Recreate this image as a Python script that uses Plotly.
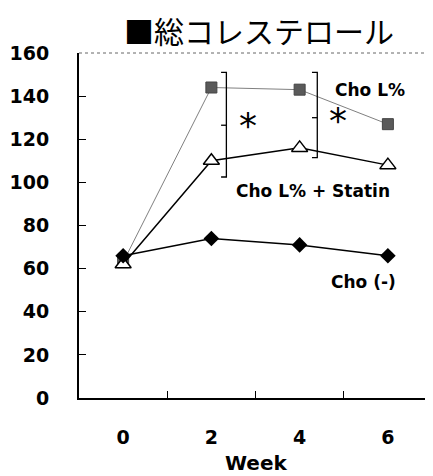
import plotly.graph_objects as go

weeks = ["0", "2", "4", "6"]
cho_l = [63, 144, 143, 127]
cho_l_statin = [62, 110, 116, 108]
cho_neg = [66, 74, 71, 66]
y_ticks = [0, 20, 40, 60, 80, 100, 120, 140, 160]

FONT = "DejaVu Sans"

fig = go.Figure()
fig.add_trace(go.Scatter(x=weeks, y=cho_l, mode="lines+markers", name="Cho L%",
                         line=dict(color="#808080", width=1),
                         marker=dict(symbol="square", size=11, color="#5a5a5a",
                                     line=dict(color="#444", width=1))))
fig.add_trace(go.Scatter(x=weeks, y=cho_l_statin, mode="lines+markers", name="Cho L% + Statin",
                         line=dict(color="black", width=1.5),
                         marker=dict(symbol="triangle-up", size=14, color="white",
                                     line=dict(color="black", width=1.5))))
fig.add_trace(go.Scatter(x=weeks, y=cho_neg, mode="lines+markers", name="Cho (-)",
                         line=dict(color="black", width=1.5),
                         marker=dict(symbol="diamond", size=12, color="black")))

shapes = []
# significance brackets: (x position, top, bottom, mid)
brackets = [(1.17, 151, 102.5, 126.5), (2.2, 151, 111.5, 130)]
for bx, top, bot, mid in brackets:
    shapes.append(dict(type="path", xref="x", yref="y",
                       path=f"M {bx-0.06},{top} L {bx},{top} L {bx},{bot} L {bx-0.06},{bot}",
                       line=dict(color="black", width=1.3)))
    shapes.append(dict(type="line", xref="x", yref="y", x0=bx - 0.06, x1=bx, y0=mid, y1=mid,
                       line=dict(color="black", width=1.3)))
# dotted top/right frame
shapes.append(dict(type="line", xref="paper", yref="paper", x0=0, x1=1, y0=1, y1=1,
                   line=dict(color="#666", width=1, dash="dot")))
shapes.append(dict(type="line", xref="paper", yref="paper", x0=1, x1=1, y0=0, y1=1,
                   line=dict(color="#888", width=1, dash="dot")))

annotations = [
    dict(text="■総コレステロール", xref="paper", yref="paper", x=0.51, y=1, yshift=23,
         showarrow=False, font=dict(family="Noto Sans CJK JP", size=30, color="black"),
         xanchor="center", yanchor="middle"),
    dict(text="<b>Cho L%</b>", xref="x", yref="y", x=2.8, y=143, showarrow=False,
         font=dict(family=FONT, size=17, color="black")),
    dict(text="<b>Cho L% + Statin</b>", xref="x", yref="y", x=2.15, y=96, showarrow=False,
         font=dict(family=FONT, size=17, color="black")),
    dict(text="<b>Cho (-)</b>", xref="x", yref="y", x=2.72, y=54, showarrow=False,
         font=dict(family=FONT, size=17, color="black")),
    dict(text="*", xref="x", yref="y", x=1.42, y=126.5, showarrow=False,
         font=dict(family=FONT, size=36, color="black")),
    dict(text="*", xref="x", yref="y", x=2.43, y=128.5, showarrow=False,
         font=dict(family=FONT, size=36, color="black")),
    dict(text="<b>Week</b>", xref="paper", yref="paper", x=0.5, y=0, yshift=-65,
         showarrow=False, font=dict(family=FONT, size=20, color="black"),
         xanchor="center", yanchor="middle"),
]

# the page body adds an 8px offset, so the figure is 8px smaller
fig.update_layout(
    width=425, height=468,
    margin=dict(l=71, r=1, t=45, b=78),
    plot_bgcolor="white", paper_bgcolor="white",
    showlegend=False,
    shapes=shapes, annotations=annotations,
    font=dict(family=FONT, color="black"),
)
fig.update_xaxes(type="category", range=[-0.5, 3.5], tickson="boundaries", ticks="inside",
                 ticklen=7, tickcolor="black", showline=True, linecolor="black", linewidth=1.5,
                 showgrid=False, zeroline=False, ticklabelstandoff=21, automargin=False,
                 tickfont=dict(family=FONT, size=19, color="black"),
                 tickvals=weeks, ticktext=[f"<b>{w}</b>" for w in weeks])
fig.update_yaxes(range=[0, 160], tickvals=y_ticks,
                 ticktext=[f"<b>{v}</b>\u2007\u2007" for v in y_ticks],
                 ticks="inside", ticklen=7, tickcolor="black", showline=True, linecolor="black",
                 linewidth=1.5, showgrid=False, zeroline=False,
                 automargin=False, tickfont=dict(family=FONT, size=19, color="black"))

fig.write_html("out.html")
